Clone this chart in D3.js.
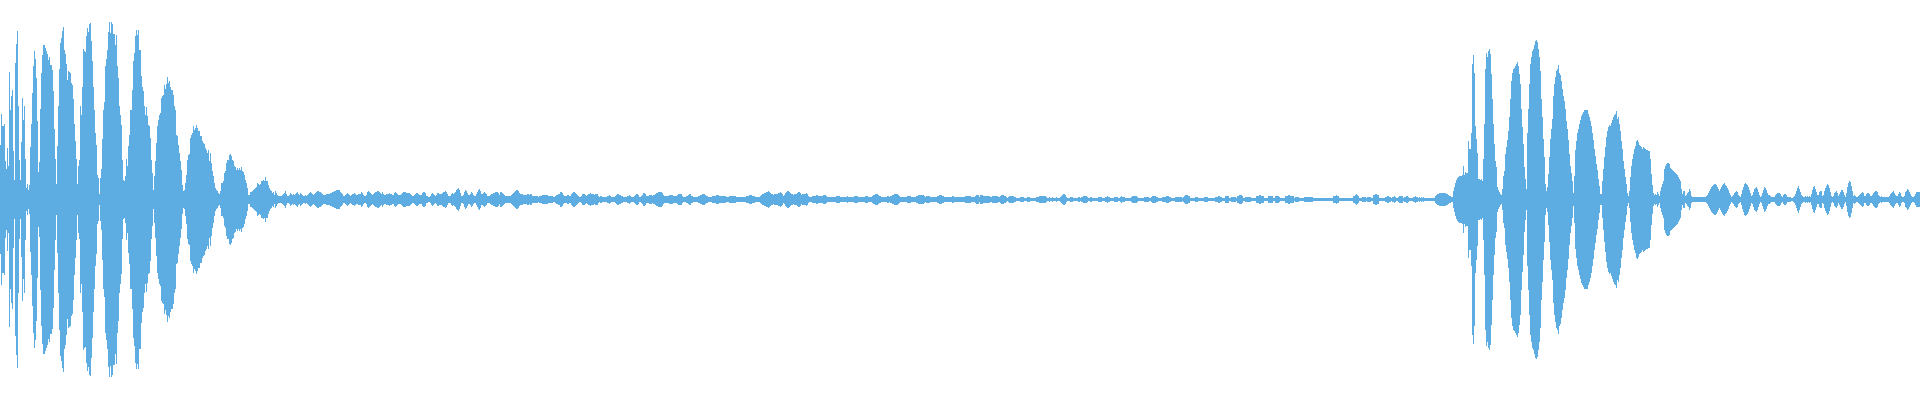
<!DOCTYPE html>
<html>
<head>
<meta charset="utf-8">
<style>
    html, body { margin: 0; padding: 0; background: #fff; }
    svg { display: block; }
</style>
<script src="https://d3js.org/d3.v7.min.js"></script>
</head>
<body>
<svg width="1920" height="400"></svg>
<script>
// peak level of each pixel column
var firstBurst = [
    54,85,73,73,75,38,30,51,33,127, 89,103,109,48,19,136,155,168,93,39,
    19,57,101,79,93,40,11,15,9,14, 52,75,106,133,148,140,121,78,27,37,
    90,126,144,154,154,151,148,145,139,142, 134,134,129,108,70,40,15,53,93,130,
    156,161,168,172,149,145,135,119,128,127, 126,116,114,100,75,58,40,15,33,39,
    93,84,112,150,148,147,163,171,167,175, 176,158,138,112,89,66,54,24,21,5,
    21,30,60,89,97,133,140,149,167,177, 166,177,175,165,165,154,164,133,121,93,
    84,74,39,19,18,23,40,33,53,64, 89,89,109,138,146,163,169,164,169,149,
    149,123,112,108,93,84,92,83,74,73, 61,39,26,9,23,38,56,73,79,84,
    86,101,103,104,114,110,115,122,116,118, 112,109,109,104,93,89,64,63,54,46,
    38,29,14,8,9,16,24,39,44,45, 61,64,66,73,69,71,74,71,68,68,
    63,63,58,56,55,51,49,46,49,38, 46,36,28,23,16,11,9,8,6,5,
    8,16,16,18,26,28,36,39,39,44, 45,43,39,38,33,32,29,31,29,31,
    29,32,28,27,24,19,16,11,4,4, 7,7,8,9,10,11,12,16,15,14,
    15,18,18,19,18,22,18,18,14,11, 9,8,6,7,4,8,6,4,3,3
];

var quietPart = [
    3,3,4,5,6,8,5,3,3,4, 6,5,4,5,4,5,6,7,5,4,
    6,5,4,3,3,4,3,4,5,6, 7,6,5,4,5,6,7,8,8,7,
    7,6,5,4,4,4,5,5,5,5, 6,6,7,7,8,8,9,9,9,9,
    7,6,5,3,3,4,5,6,5,4, 3,4,5,5,6,5,4,4,5,5,
    5,7,6,4,3,3,4,7,8,7, 6,5,4,5,6,7,7,8,8,7,
    6,5,7,5,4,4,5,5,5,6, 5,5,4,4,6,7,6,5,4,4,
    4,5,6,7,7,7,6,6,6,6, 5,4,3,3,4,5,6,6,5,4,
    4,4,6,7,7,6,3,3,2,2, 3,5,6,5,4,3,4,6,6,5,
    5,5,6,7,7,8,7,5,3,3, 3,5,6,5,6,7,9,10,11,9,
    6,3,3,4,7,9,8,6,4,4, 5,7,6,4,3,3,5,7,9,10,
    8,5,5,6,7,6,5,3,3,3, 4,5,5,6,6,7,7,7,6,4,
    7,7,6,5,4,3,3,3,3,3, 3,4,5,6,7,8,9,9,8,6,
    5,5,5,4,4,4,4,5,5,4, 5,5,3,3,3,3,3,3,2,3,
    3,3,4,4,4,4,4,4,3,3, 3,3,3,2,2,3,4,4,5,5,
    7,7,6,4,3,3,3,4,4,3, 3,5,6,7,7,6,5,4,3,2,
    2,3,5,5,5,4,3,4,5,5, 6,5,5,5,4,5,5,5,3,2,
    3,3,2,2,2,2,2,3,3,4, 3,2,2,2,2,3,4,5,5,4,
    4,3,3,2,2,2,2,3,3,4, 3,2,2,2,3,4,5,5,4,2,
    2,3,4,6,6,5,3,3,3,4, 4,4,3,4,4,5,6,6,7,7,
    7,7,6,4,3,3,3,3,3,4, 4,4,4,3,3,3,3,4,5,5,
    5,5,3,2,2,2,3,3,4,5, 5,3,3,2,2,2,2,2,3,3,
    4,4,5,5,5,4,3,3,2,2, 2,2,3,3,3,3,4,4,4,3,
    3,3,3,3,3,3,2,2,2,3, 3,3,3,3,3,3,2,2,2,2,
    2,2,2,2,2,2,3,3,3,4, 4,4,3,3,3,2,2,2,2,2,
    3,4,5,5,6,6,7,7,8,7, 6,5,5,4,5,5,5,5,6,6,
    7,6,5,3,4,6,7,8,8,7, 6,5,5,4,5,5,5,6,7,7,
    6,4,5,5,5,5,6,5,3,2, 2,2,3,3,3,3,4,4,3,3,
    3,3,3,4,4,4,3,2,2,2, 2,2,2,2,2,2,3,3,3,3,
    2,2,2,2,2,2,2,3,2,2, 2,2,2,2,3,3,3,3,2,2,
    2,2,2,2,2,3,3,3,2,2, 2,2,3,4,4,5,5,5,4,3,
    3,2,2,2,2,2,2,3,3,2, 3,3,4,4,5,5,5,5,4,3,
    2,2,2,2,2,2,2,3,3,3, 3,2,2,2,2,2,3,3,4,4,
    4,4,4,4,3,2,3,3,3,3, 2,2,2,2,2,2,2,3,3,4,
    4,4,3,3,2,2,2,2,2,2, 2,2,3,3,2,2,2,2,2,2,
    2,2,2,2,2,3,3,3,3,3, 3,2,2,2,2,3,4,4,4,2,
    4,4,4,3,3,3,3,3,3,3, 2,2,3,3,3,3,3,3,2,2,
    3,4,4,4,3,3,2,1,2,3, 3,3,3,3,2,2,1,1,1,1,
    2,2,2,2,1,1,1,2,2,2, 1,1,1,1,1,1,2,2,2,3,
    3,3,3,3,3,3,2,1,1,2, 1,1,2,1,1,1,2,1,1,1,
    2,3,4,5,5,4,2,1,1,1, 2,2,2,1,1,1,1,1,2,2,
    1,2,2,3,3,3,3,2,1,1, 2,2,1,1,1,1,1,1,2,2,
    2,2,1,1,1,2,2,3,2,2, 1,1,1,1,2,2,2,2,1,1,
    2,3,2,2,2,1,1,1,1,1, 1,2,3,3,3,3,3,2,1,1,
    1,1,1,1,2,2,2,2,2,1, 1,2,3,3,3,3,2,2,1,1,
    1,1,2,2,2,2,3,3,3,2, 2,1,1,1,1,2,2,2,2,2,
    2,2,1,2,3,4,4,4,3,3, 1,1,1,1,1,2,2,2,1,1,
    1,1,1,1,2,2,2,2,1,1, 1,1,1,1,1,2,2,2,3,3,
    2,2,1,1,1,3,3,3,3,1, 1,2,2,2,2,2,1,3,3,4,
    4,4,3,1,1,2,2,2,2,2, 2,1,1,1,1,1,3,3,3,4,
    4,3,3,3,1,1,1,1,3,3, 3,3,3,1,1,3,3,3,3,2,
    1,1,1,1,1,3,3,3,4,4, 3,3,3,3,1,2,2,2,2,1,
    1,1,1,1,2,2,2,2,2,2, 2,2,2,1,1,1,1,1,1,1,
    1,1,1,1,1,1,1,1,1,1, 1,1,1,3,3,3,4,3,3,1,
    1,1,1,1,1,1,1,1,1,1, 1,1,1,3,3,4,5,4,3,1,
    1,1,2,2,2,2,1,2,2,2, 2,1,1,4,4,5,5,4,4,1,
    1,1,1,1,1,2,2,3,3,2, 2,1,2,2,3,2,1,1,2,3,
    3,3,3,1,2,2,3,3,2,1, 1,1,1,2,2,3,2,2,1,2,
    1,2,1,2,1,1,1,1,1,1, 1,1,1,1,1,3,4,5,5,6,
    6,6,6,6,6,6,5,5,4,3,3,2,2
];

var secondBurst = [
    8,12,16,19,21,22,23,23,23,24,33,24,27,26,26,58,50,50,66,135,
    144,126,73,60,46,20,20,19,20,
    18,40,75,130,146,142,148,150,145,125,100,75,55,38,32,12,9,7,5,4,
    10,23,28,45,52,59,68,82,100,118,126,130,131,133,135,137,133,125,115,90,72,55,32,20,10,
    66,90,115,135,142,148,150,154,158,159,157,150,142,128,100,82,60,42,15,8,
    12,25,42,60,70,80,103,115,122,128,130,134,126,124,118,110,103,98,90,78,70,59,45,33,26,18,6,
    23,49,58,66,70,75,79,83,85,87,89,89,89,89,85,82,78,73,66,59,50,43,35,29,20,13,5,5,
    18,30,42,52,62,68,72,74,73,76,79,82,84,85,88,80,82,75,68,58,50,38,30,22,15,6,3,
    8,22,33,40,45,50,53,58,59,57,54,53,52,50,52,51,50,49,49,48,48,40,25,14,6,4,
    5,4,7,5,3,
    8,12,15,18,30,33,35,36,36,35,31,30,29,28,27,26,25,24,22,20,18,10,5,
    8,8,3,4,6,7,10,8,3,2,2,2,2,2,2,2,2,2,2,2,2,2,2,
    3,4,6,8,10,12,13,14,15,15,14,12,10,8,10,12,14,15,16,14,13,11,9,6,4,2,
    3,4,6,7,8,7,4,3,2,5,9,12,15,16,15,14,12,9,6,3,4,7,10,11,12,10,7,4,2,
    3,6,9,12,11,9,6,4,4,3,2,2,2,2,4,5,6,6,6,5,3,2,4,5,5,4,2,2,2,2,1,1,2,
    3,5,8,11,13,10,7,4,3,2,2,3,2,3,2,3,2,5,9,12,13,10,7,4,4,7,8,8,3,4,8,11,13,15,14,11,7,3,2,
    3,6,7,8,6,3,5,7,9,9,7,4,2,6,12,16,18,17,13,8,3,4,3,2,2,3,4,5,6,7,6,3,
    3,5,6,6,5,3,3,4,6,7,8,8,7,4,3,2,3,2,2,2,2,2,2,2,3,5,6,7,8,6,4,3,3,5,7,6,3,2,2,
    3,7,8,10,9,7,5,3,2,2,3,5,7,7,7,7,7
];

var peaks = firstBurst.concat(quietPart, secondBurst);
console.log(peaks.length);

var svg = d3.select("svg"),
    width = +svg.attr("width"),
    height = +svg.attr("height");

var x = d3.scaleBand()
    .domain(d3.range(peaks.length))
    .range([0, peaks.length]);

var y = d3.scaleLinear()
    .domain([-200, 200])
    .range([height - 0.5, -0.5]);

// every column also covers the centre pixel row, so the silent line stays 3px thick
var centreRow = 0.5;

svg.append("rect")
    .attr("width", width)
    .attr("height", height)
    .attr("fill", "#fff");

svg.selectAll(".bar")
    .data(peaks)
    .enter().append("rect")
    .attr("class", "bar")
    .attr("x", function (d, i) { return x(i); })
    .attr("y", function (d) { return y(d + centreRow); })
    .attr("width", x.bandwidth())
    .attr("height", function (d) { return y(-d - centreRow) - y(d + centreRow); })
    .attr("fill", "#5dade2")
    .attr("shape-rendering", "crispEdges");
</script>
</body>
</html>
